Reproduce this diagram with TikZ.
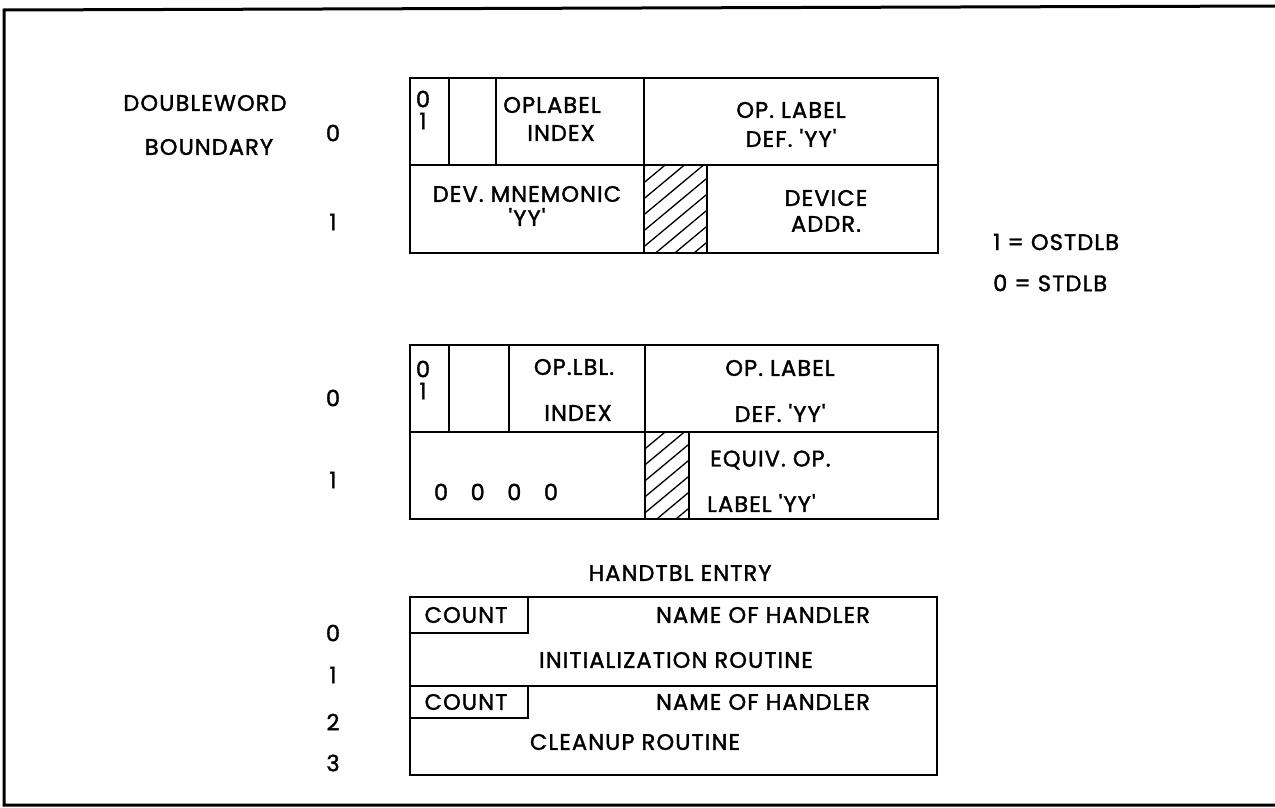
\documentclass[tikz,border=0pt]{standalone}
\usepackage{fontspec}
\setmainfont{Poppins}
\newfontfamily\lblfont[FakeBold=1.6, LetterSpace=5]{Poppins}
\newcommand\sq{\char39\relax}
\begin{document}
\begin{tikzpicture}[x=1pt,y=-1pt, line join=miter,
  box/.style={line width=2.2pt},
  frame/.style={line width=3pt},
  hatch/.style={line width=1.3pt},
  lbl/.style={font=\lblfont\fontsize{22.5}{24}\selectfont, inner sep=0pt},
]
\useasboundingbox (0,0) rectangle (1275,808);
% outer frame
\draw[frame] (1280,6) -- (4,10) -- (4,805) -- (1280,805);

% left labels
\node[lbl] (dw) at (205,103) {DOUBLEWORD};
\node[lbl] (bd) at (209,147) {BOUNDARY};
\node[lbl] (a0) at (333,133) {0};
\node[lbl] (a1) at (333,222) {1};
\node[lbl] (b0) at (333,398) {0};
\node[lbl] (b1) at (333,480) {1};
\node[lbl] (c0) at (333,633) {0};
\node[lbl] (c1) at (333,675) {1};
\node[lbl] (c2) at (333,722) {2};
\node[lbl] (c3) at (333,763) {3};

% ---- box 1
\draw[box] (410,78) rectangle (938,253);
\draw[box] (410,165) -- (938,165);
\draw[box] (449,78) -- (449,165);
\draw[box] (496,78) -- (496,165);
\draw[box] (644,78) -- (644,253);
\draw[box] (707,165) -- (707,253);
\begin{scope}
\clip (644,165) rectangle (707,253);
\foreach \k in {0,...,12} \draw[hatch] (640,170+\k*16) -- ++(120,-100);
\end{scope}
\node[lbl] (a01) at (423,99) {0};
\node[lbl] (a11) at (423,121) {1};
\node[lbl] (opl) at (552,105) {OPLABEL};
\node[lbl] (idx) at (561,133) {INDEX};
\node[lbl] (opd1) at (791,110) {OP. LABEL};
\node[lbl] (opd2) at (791,138) {DEF. \sq YY\sq};
\node[lbl] (dev1) at (527,194) {DEV. MNEMONIC};
\node[lbl] (dev2) at (527,217) {\sq YY\sq};
\node[lbl] (da1) at (826,198) {DEVICE};
\node[lbl] (da2) at (826,224) {ADDR.};

% legend
\node[lbl, anchor=west] (l1) at (993,242) {1 = OSTDLB};
\node[lbl, anchor=west] (l0) at (993,283) {0 = STDLB};

% ---- box 2
\draw[box] (410,345) rectangle (938,519);
\draw[box] (410,432) -- (938,432);
\draw[box] (449,345) -- (449,432);
\draw[box] (509,345) -- (509,432);
\draw[box] (645,345) -- (645,519);
\draw[box] (689,432) -- (689,519);
\begin{scope}
\clip (645,432) rectangle (689,519);
\foreach \k in {0,...,12} \draw[hatch] (640,437+\k*16) -- ++(120,-100);
\end{scope}
\node[lbl] (b01) at (423,369) {0};
\node[lbl] (b11) at (423,391) {1};
\node[lbl] (olbl) at (574,367) {OP.LBL.};
\node[lbl] (oidx) at (578,413) {INDEX};
\node[lbl] (od1) at (780,368) {OP. LABEL};
\node[lbl] (od2) at (780,413) {DEF. \sq YY\sq};
\node[lbl] (zeros) at (496,492) {0\hspace{1em}0\hspace{1em}0\hspace{1em}0};
\node[lbl, anchor=west] (eq1) at (710,460) {EQUIV. OP.};
\node[lbl, anchor=west] (eq2) at (707,503) {LABEL \sq YY\sq};

% ---- box 3
\node[lbl] (ht) at (680,573) {HANDTBL ENTRY};
\draw[box] (410,597) rectangle (937,775);
\draw[box] (410,686) -- (937,686);
\draw[box] (410,633) -- (528,633) -- (528,597);
\draw[box] (410,718) -- (528,718) -- (528,686);
\node[lbl] (cnt1) at (466,615) {COUNT};
\node[lbl] (cnt2) at (466,702) {COUNT};
\node[lbl] (nh1) at (763,615) {NAME OF HANDLER};
\node[lbl] (nh2) at (763,702) {NAME OF HANDLER};
\node[lbl] (init) at (676,660) {INITIALIZATION ROUTINE};
\node[lbl] (clean) at (635,742) {CLEANUP ROUTINE};
\end{tikzpicture}
\end{document}
